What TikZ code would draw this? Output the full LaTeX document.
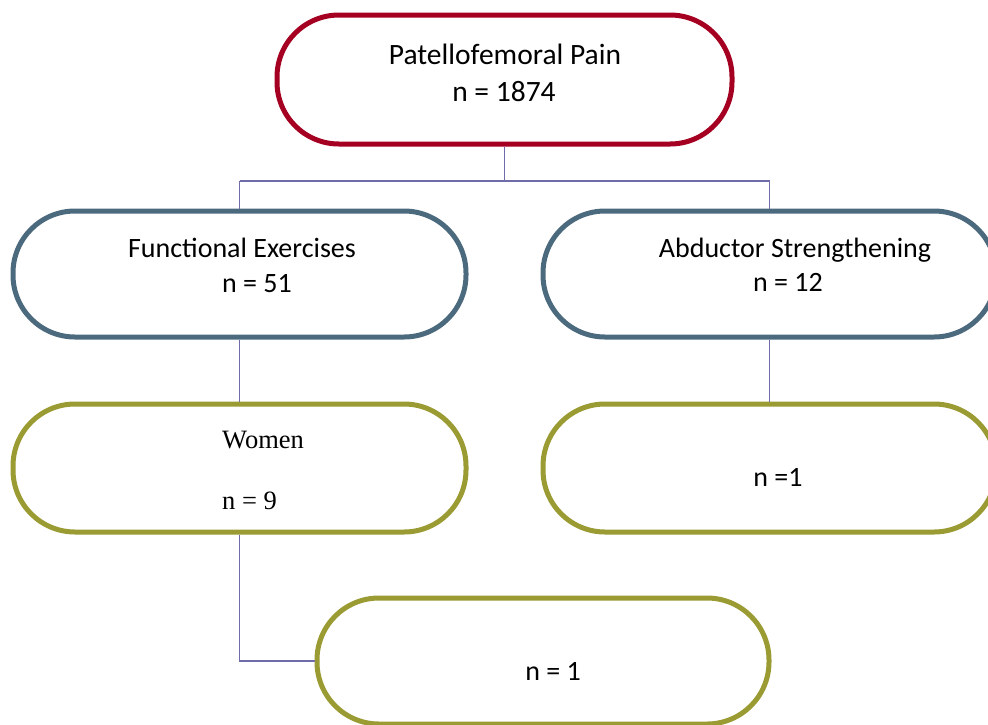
\documentclass[tikz,border=0pt]{standalone}
\usepackage{fontspec}
\setmainfont{Carlito}
\newfontfamily\timesfont{Liberation Serif}
\definecolor{boxred}{RGB}{165,0,33}
\definecolor{boxslate}{RGB}{76,106,126}
\definecolor{boxolive}{RGB}{155,155,52}
\definecolor{linkcol}{RGB}{112,108,170}
\tikzset{
  pill/.style={draw, line width=5pt, rounded corners=62pt, fill=white, inner sep=0pt},
  link/.style={draw=linkcol, line width=1.6pt},
  txt/.style={anchor=base, inner sep=0pt, font=\fontsize{28}{34}\selectfont},
  bigtxt/.style={anchor=base, inner sep=0pt, font=\fontsize{29.5}{36}\selectfont},
  ttxt/.style={anchor=base west, inner sep=0pt, font=\timesfont\fontsize{26.5}{32}\selectfont},
}
\begin{document}
\begin{tikzpicture}[x=1pt,y=-1pt]
\useasboundingbox (0,0) rectangle (988,724);
\clip (0,0) rectangle (988,724);
\fill[white] (0,0) rectangle (988,724);
% boxes
\node[pill, draw=boxred, minimum width=455pt, minimum height=129pt] (top) at (504.5,79.5) {};
\node[pill, draw=boxslate, minimum width=453pt, minimum height=126pt] (fe) at (239.5,274) {};
\node[pill, draw=boxslate, minimum width=453pt, minimum height=126pt] (as) at (769.5,274) {};
\node[pill, draw=boxolive, minimum width=453pt, minimum height=128pt] (women) at (239.5,468) {};
\node[pill, draw=boxolive, minimum width=453pt, minimum height=128pt] (r1) at (769.5,468) {};
\node[pill, draw=boxolive, minimum width=452pt, minimum height=126pt] (bot) at (543,661) {};
% connectors
\coordinate (split) at (504.5,181);
\coordinate (sl) at (239.5,181);
\coordinate (sr) at (769.5,181);
\draw[link] (top.south) -- (split);
\draw[link] (sl) -- (sr);
\draw[link] (sl) -- (fe.north);
\draw[link] (sr) -- (as.north);
\draw[link] (fe.south) -- (women.north);
\draw[link] (as.south) -- (r1.north);
\draw[link] (women.south) |- (bot.west);
% texts
\node[bigtxt] (t1) at (505,64) {Patellofemoral Pain};
\node[bigtxt] (t2) at (504,101) {n = 1874};
\node[txt] (t3) at (242,257) {Functional Exercises};
\node[txt] (t4) at (257,292) {n = 51};
\node[txt] (t5) at (795,257) {Abductor Strengthening};
\node[txt] (t6) at (788,291) {n = 12};
\node[ttxt] (t7) at (222,448) {Women};
\node[ttxt] (t8) at (222,509) {n = 9};
\node[txt] (t9) at (778,486) {n =1};
\node[txt] (t10) at (553,680) {n = 1};
\end{tikzpicture}
\end{document}
